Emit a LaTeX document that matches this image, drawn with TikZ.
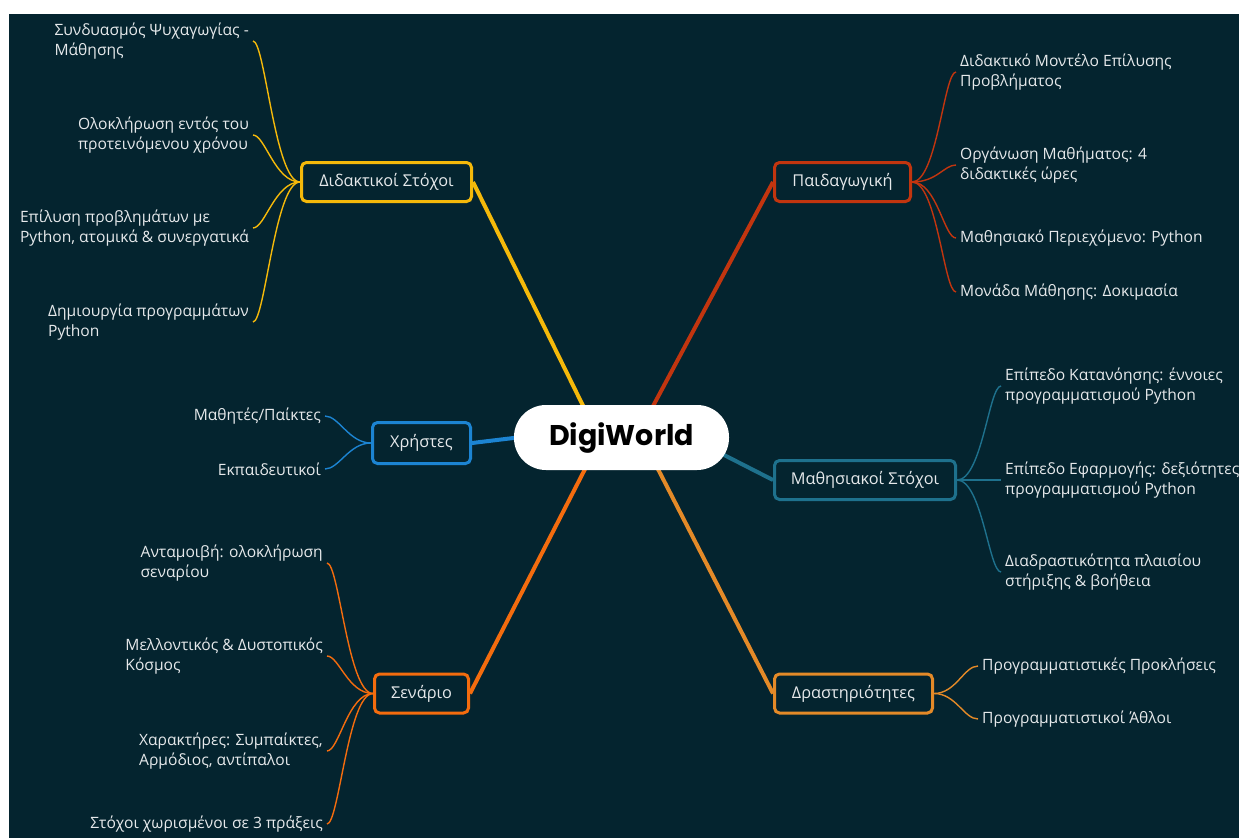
\documentclass[tikz,border=0pt]{standalone}
\usepackage{fontspec}
\setmainfont{Open Sans}
\newfontfamily\hubfont{Poppins}
\usetikzlibrary{calc}
\definecolor{bgc}{HTML}{04242F}
\definecolor{cyel}{HTML}{F5B90A}
\definecolor{cred}{HTML}{C2350F}
\definecolor{cblue}{HTML}{1C84D2}
\definecolor{cteal}{HTML}{1E718D}
\definecolor{cora}{HTML}{F46C0E}
\definecolor{corb}{HTML}{E48A28}
\definecolor{txt}{HTML}{E6E9EB}
\pgfdeclarelayer{back}
\pgfdeclarelayer{lines}
\pgfsetlayers{back,lines,main}
\begin{document}
\begin{tikzpicture}[x=1pt,y=-1pt,
  topic/.style={draw=#1, line width=3pt, rounded corners=5pt, text=txt, fill=bgc,
    font=\fontsize{16.3}{19}\selectfont, inner sep=0pt, minimum height=39pt},
  leafR/.style={anchor=west, align=left, text=txt, inner sep=0pt,
    font=\fontsize{15.6}{20.5}\selectfont},
  leafL/.style={anchor=east, align=left, text=txt, inner sep=0pt,
    font=\fontsize{15.6}{20.5}\selectfont},
  mainline/.style={draw=#1, line width=4pt},
  twig/.style={draw=#1, line width=1.4pt},
  hub/.style={fill=white, rounded corners=32pt, minimum width=215pt, minimum height=65pt,
    inner sep=0pt, text=black, font=\hubfont\bfseries\fontsize{28.5}{31}\selectfont}
]
\useasboundingbox (0,0) rectangle (1239,838);
\begin{pgfonlayer}{back}
  \fill[white] (0,0) rectangle (1239,838);
  \fill[bgc] (9,14) rectangle (1239,838);
\end{pgfonlayer}

% central node
\node[hub] (hub) at (621.5,437.5) {DigiWorld};

% topics
\node[topic=cyel, minimum width=170pt] (did) at (386.5,182) {Διδακτικοί Στόχοι};
\node[topic=cred, minimum width=136pt] (ped) at (842.5,182) {Παιδαγωγική};
\node[topic=cblue, minimum width=98pt, minimum height=41pt] (usr) at (421.5,443) {Χρήστες};
\node[topic=cteal, minimum width=181pt] (lrn) at (865,480) {Μαθησιακοί Στόχοι};
\node[topic=cora, minimum width=94pt] (scn) at (421.5,693.5) {Σενάριο};
\node[topic=corb, minimum width=158pt] (act) at (853.5,693.5) {Δραστηριότητες};

% main connectors
\begin{pgfonlayer}{lines}
  \draw[mainline=cyel] (did.east) -- ($(hub.north)+(-36,6)$);
  \draw[mainline=cred] (ped.west) -- ($(hub.north)+(29,6)$);
  \draw[mainline=cblue] (usr.east) -- ($(hub.west)+(8,-0.5)$);
  \draw[mainline=cteal] (lrn.west) -- ($(hub.east)+(-12,14)$);
  \draw[mainline=cora] (scn.east) -- ($(hub.south)+(-34,-6)$);
  \draw[mainline=corb] (act.west) -- ($(hub.south)+(34,-6)$);
\end{pgfonlayer}

% yellow leaves
\node[leafL] (y1) at (249,41) {Συνδυασμός Ψυχαγωγίας -\\Μάθησης};
\node[leafL] (y2) at (249,135) {Ολοκλήρωση εντός του\\προτεινόμενου χρόνου};
\node[leafL] (y3) at (249,228) {Επίλυση προβλημάτων με\\Python, ατομικά \& συνεργατικά};
\node[leafL] (y4) at (249,322) {Δημιουργία προγραμμάτων\\Python};
% red leaves
\node[leafR] (r1) at (960,72) {Διδακτικό Μοντέλο Επίλυσης\\Προβλήματος};
\node[leafR] (r2) at (960,165) {Οργάνωση Μαθήματος: 4\\διδακτικές ώρες};
\node[leafR] (r3) at (960,238) {Μαθησιακό Περιεχόμενο: Python};
\node[leafR] (r4) at (960,292) {Μονάδα Μάθησης: Δοκιμασία};
% blue leaves
\node[leafL] (b1) at (321,416) {Μαθητές/Παίκτες};
\node[leafL] (b2) at (321,469) {Εκπαιδευτικοί};
% teal leaves
\node[leafR] (t1) at (1005,386) {Επίπεδο Κατανόησης: έννοιες\\προγραμματισμού Python};
\node[leafR] (t2) at (1005,480) {Επίπεδο Εφαρμογής: δεξιότητες\\προγραμματισμού Python};
\node[leafR] (t3) at (1005,572) {Διαδραστικότητα πλαισίου\\στήριξης \& βοήθεια};
% orange leaves
\node[leafL] (o1) at (323,563) {Ανταμοιβή: ολοκλήρωση\\σεναρίου};
\node[leafL] (o2) at (323,656) {Μελλοντικός \& Δυστοπικός\\Κόσμος};
\node[leafL] (o3) at (323,751) {Χαρακτήρες: Συμπαίκτες,\\Αρμόδιος, αντίπαλοι};
\node[leafL] (o4) at (323,824) {Στόχοι χωρισμένοι σε 3 πράξεις};
% orange2 leaves
\node[leafR] (a1) at (982,666) {Προγραμματιστικές Προκλήσεις};
\node[leafR] (a2) at (982,719) {Προγραμματιστικοί Άθλοι};

% twigs
\begin{pgfonlayer}{lines}
  \foreach \l in {y1,y2,y3,y4}
    \draw[twig=cyel] (did.west) .. controls +(-25,0) and +(12,0) .. ([xshift=4pt]\l.east);
  \foreach \l in {r1,r2,r3,r4}
    \draw[twig=cred] (ped.east) .. controls +(25,0) and +(-12,0) .. ([xshift=-4pt]\l.west);
  \foreach \l in {b1,b2}
    \draw[twig=cblue] (usr.west) .. controls +(-22,0) and +(14,0) .. ([xshift=4pt]\l.east);
  \foreach \l in {t1,t2,t3}
    \draw[twig=cteal] (lrn.east) .. controls +(25,0) and +(-12,0) .. ([xshift=-4pt]\l.west);
  \foreach \l in {o1,o2,o3,o4}
    \draw[twig=cora] (scn.west) .. controls +(-25,0) and +(12,0) .. ([xshift=4pt]\l.east);
  \foreach \l in {a1,a2}
    \draw[twig=corb] (act.east) .. controls +(22,0) and +(-14,0) .. ([xshift=-4pt]\l.west);
\end{pgfonlayer}
\end{tikzpicture}
\end{document}
